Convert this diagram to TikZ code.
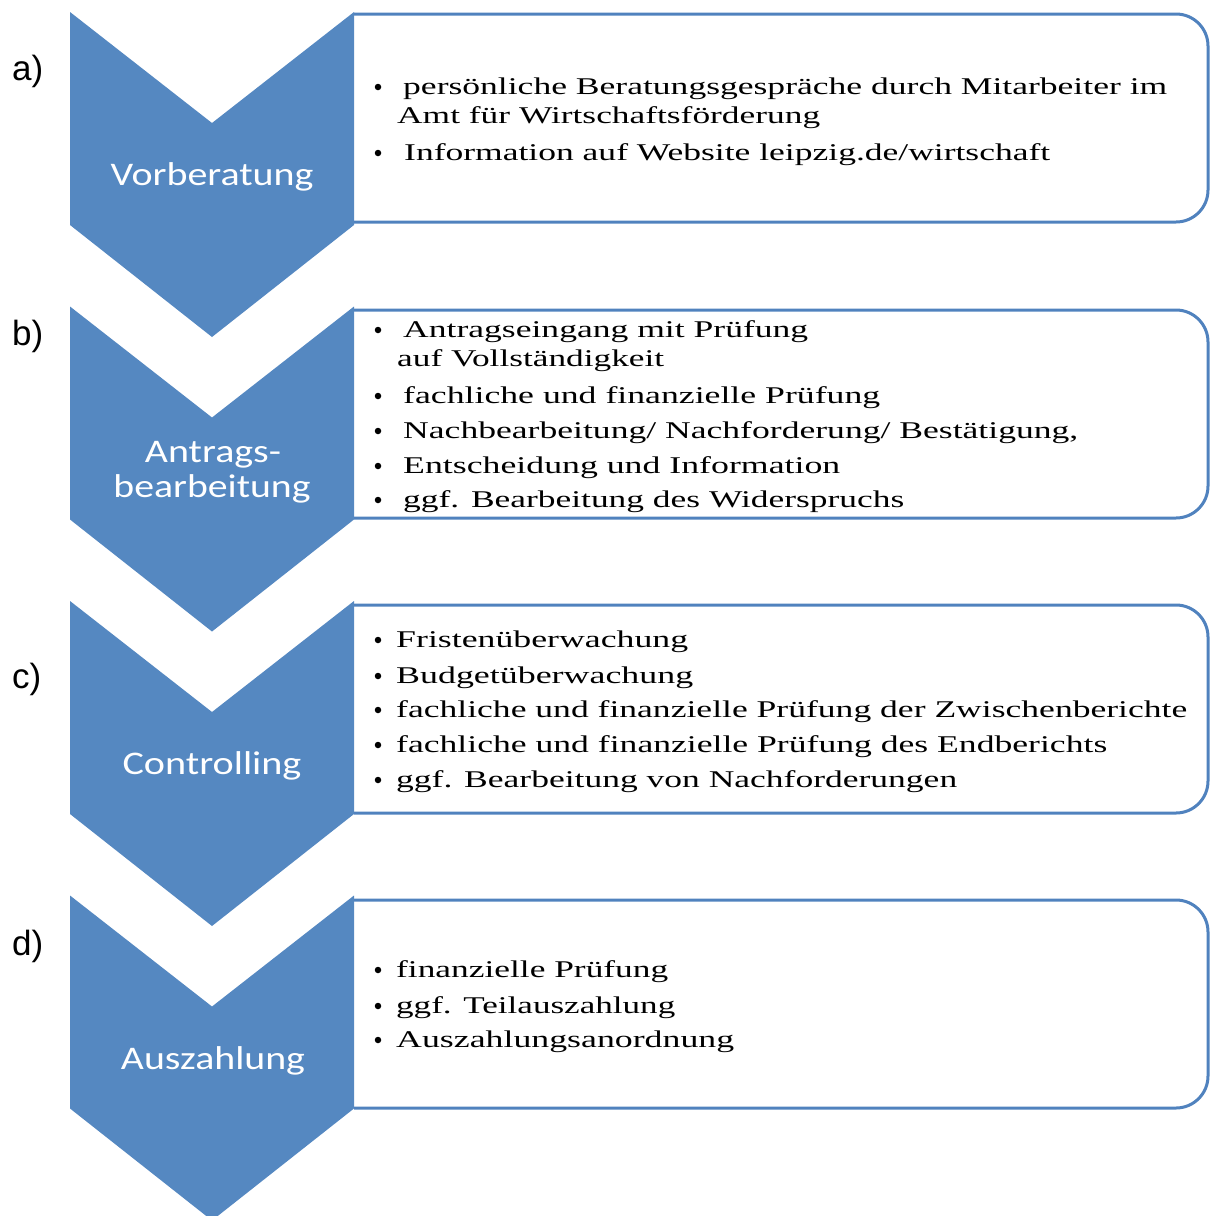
\documentclass[tikz,border=0pt]{standalone}
\usepackage{fontspec}
\usepackage{graphicx}
\setmainfont{Liberation Serif}
\newfontfamily\stepfont{Carlito}
\newfontfamily\tagfont{Liberation Sans}
\definecolor{stepblue}{RGB}{85,136,193}
\definecolor{frameblue}{RGB}{80,130,190}
% stretch a line of text to a given width, keeping its height
\newcommand\wide[2]{\resizebox{#1pt}{\height}{#2}}

\tikzset{
  chevron/.style={fill=stepblue},
  frame/.style={draw=frameblue, line width=3pt, rounded corners=32pt},
  item/.style={anchor=base west, inner sep=0pt, font=\fontsize{24}{28}\selectfont},
  dot/.style={circle, fill=black, inner sep=0pt, minimum size=6.5pt},
  steplabel/.style={anchor=base, inner sep=0pt, text=white, font=\stepfont\fontsize{33}{38}\selectfont},
  tag/.style={anchor=base west, inner sep=0pt, font=\tagfont\fontsize{35}{40}\selectfont},
}

\begin{document}
\begin{tikzpicture}[x=1pt,y=-1pt]
\useasboundingbox (0,0) rectangle (1210,1216);
\clip (0,0) rectangle (1210,1216);

% chevrons and the framed boxes beside them
\foreach \t/\b in {12/14, 306.5/310, 601/605, 895.5/900} {
  \fill[chevron] (70,\t) -- (212,\t+111) -- (354,\t) -- (354,\t+213)
                 -- (212,\t+325) -- (70,\t+213) -- cycle;
  \draw[frame] (354,\b) -- (1208,\b) -- (1208,\b+208) -- (354,\b+208);
}

% step tags
\node[tag] (ta) at (12,80)  {a)};
\node[tag] (tb) at (12,345) {b)};
\node[tag] (tc) at (12,688) {c)};
\node[tag] (td) at (12,955) {d)};

% step names
\node[steplabel] (sa)  at (212,185) {\wide{203}{Vorberatung}};
\node[steplabel] (sb1) at (213,462) {\wide{136}{Antrags-}};
\node[steplabel] (sb2) at (212,497) {\wide{197}{bearbeitung}};
\node[steplabel] (sc)  at (212,774) {\wide{179}{Controlling}};
\node[steplabel] (sd)  at (213,1069) {\wide{184}{Auszahlung}};

% box a
\node[dot]  (da1) at (378,87)  {};
\node[item] (ia1) at (403,94)  {\wide{764}{persönliche Beratungsgespräche durch Mitarbeiter im}};
\node[item] (ia2) at (397,123) {\wide{423}{Amt für Wirtschaftsförderung}};
\node[dot]  (da3) at (378,153) {};
\node[item] (ia3) at (404,160) {\wide{646}{Information auf Website leipzig.de/wirtschaft}};

% box b
\node[dot]  (db1) at (378,330) {};
\node[item] (ib1) at (403,337) {\wide{405}{Antragseingang mit Prüfung}};
\node[item] (ib2) at (397,366) {\wide{267}{auf Vollständigkeit}};
\node[dot]  (db3) at (378,396) {};
\node[item] (ib3) at (403,403) {\wide{477}{fachliche und finanzielle Prüfung}};
\node[dot]  (db4) at (378,431) {};
\node[item] (ib4) at (403,438) {\wide{675}{Nachbearbeitung/ Nachforderung/ Bestätigung,}};
\node[dot]  (db5) at (378,466) {};
\node[item] (ib5) at (403,473) {\wide{437}{Entscheidung und Information}};
\node[dot]  (db6) at (378,500) {};
\node[item] (ib6) at (403,507) {\wide{501}{ggf. Bearbeitung des Widerspruchs}};

% box c
\node[dot]  (dc1) at (378,640) {};
\node[item] (ic1) at (396,647) {\wide{292}{Fristenüberwachung}};
\node[dot]  (dc2) at (378,676) {};
\node[item] (ic2) at (396,683) {\wide{297}{Budgetüberwachung}};
\node[dot]  (dc3) at (378,710) {};
\node[item] (ic3) at (396,717) {\wide{791}{fachliche und finanzielle Prüfung der Zwischenberichte}};
\node[dot]  (dc4) at (378,745) {};
\node[item] (ic4) at (396,752) {\wide{711}{fachliche und finanzielle Prüfung des Endberichts}};
\node[dot]  (dc5) at (378,780) {};
\node[item] (ic5) at (396,787) {\wide{561}{ggf. Bearbeitung von Nachforderungen}};

% box d
\node[dot]  (dd1) at (378,970)  {};
\node[item] (id1) at (396,977)  {\wide{272}{finanzielle Prüfung}};
\node[dot]  (dd2) at (378,1006) {};
\node[item] (id2) at (396,1013) {\wide{279}{ggf. Teilauszahlung}};
\node[dot]  (dd3) at (378,1040) {};
\node[item] (id3) at (396,1047) {\wide{338}{Auszahlungsanordnung}};
\end{tikzpicture}
\end{document}
